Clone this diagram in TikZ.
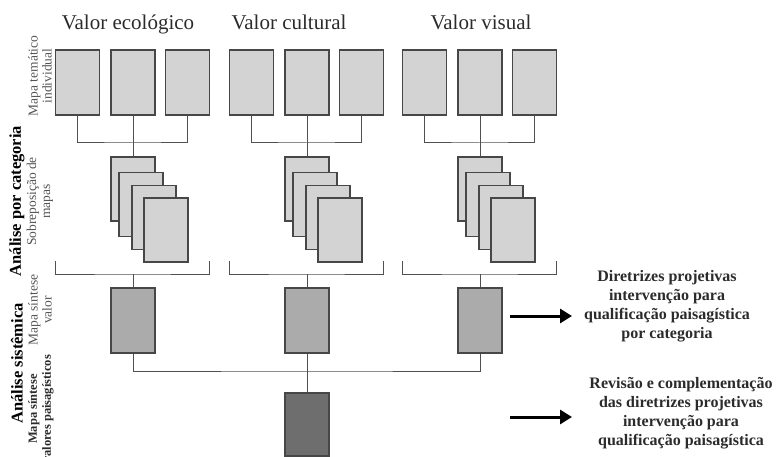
\documentclass[tikz,border=0pt]{standalone}
\usepackage{fontspec}
\setmainfont{Liberation Serif}
\usetikzlibrary{arrows.meta,calc}
\definecolor{mapfill}{HTML}{D3D3D3}
\definecolor{synfill}{HTML}{ABABAB}
\definecolor{totfill}{HTML}{6E6E6E}
\definecolor{edgegray}{HTML}{474747}
\definecolor{linkgray}{HTML}{505050}
\definecolor{inkgray}{HTML}{2B2B2B}
\definecolor{softink}{HTML}{555555}
\tikzset{
  mapa/.style={draw=edgegray, fill=mapfill, line width=1.2pt, minimum width=44pt, minimum height=65pt, inner sep=0pt},
  pilha/.style={mapa, minimum height=64pt},
  sint/.style={mapa, fill=synfill},
  tot/.style={mapa, fill=totfill, minimum height=63pt},
  lnk/.style={draw=linkgray, line width=1pt},
  seta/.style={-{Triangle[length=12pt,width=14pt]}, line width=3pt, draw=black},
  titulo/.style={font=\fontsize{21}{25}\selectfont, text=inkgray, anchor=base},
  rot/.style={rotate=90, align=center, inner sep=1pt, font=\fontsize{13.5}{14}\selectfont, text=softink},
  rotb/.style={rotate=90, align=center, font=\bfseries\fontsize{16.5}{20}\selectfont, text=black},
  saida/.style={align=center, font=\bfseries\fontsize{16}{19}\selectfont, text=inkgray},
}
\begin{document}
\begin{tikzpicture}[x=1pt, y=-1pt]
  \useasboundingbox (0,0) rectangle (776,457);
  \node[titulo] (t1) at (128,30) {Valor ecológico};
  \node[titulo] (t2) at (289,30) {Valor cultural};
  \node[titulo] (t3) at (481,30) {Valor visual};
  \node[rot] (lm) at (40,76) {Mapa temático\\individual};
  \node[rot] (ls) at (40,201.5) {Sobreposição de\\mapas};
  \node[rotb] (lc) at (17,201) {Análise por categoria};
  \node[rot] (lv) at (40,310) {Mapa síntese\\valor};
  \node[rotb] (la) at (17,363.5) {Análise sistêmica};
  \node[rot, text=inkgray, font=\bfseries\fontsize{12.5}{14}\selectfont] (lp) at (41,409) {Mapa síntese\\valores paisagísticos};
  \foreach \g/\gx in {1/133,2/307,3/480} {
    \node[mapa] (m\g-1) at (\gx-55.5,82.5) {};
    \node[mapa] (m\g-2) at (\gx,82.5) {};
    \node[mapa] (m\g-3) at (\gx+54.5,82.5) {};
    \coordinate (b\g) at (\gx,143);
    \draw[lnk] (m\g-1.south) |- (b\g) -| (m\g-3.south);
    \node[pilha] (s\g-1) at (\gx,189) {};
    \node[pilha] (s\g-2) at (\gx+8,204.5) {};
    \node[pilha] (s\g-3) at (\gx+21,217.5) {};
    \node[pilha] (s\g-4) at (\gx+33,230) {};
    \draw[lnk] (m\g-2.south) -- (s\g-1.north);
    \coordinate (k\g) at (\gx,274);
    \draw[lnk] (\gx-77.5,261) |- (k\g) -| (\gx+76.5,261);
    \node[sint] (v\g) at (\gx,320.5) {};
    \draw[lnk] (k\g) -- (v\g.north);
  }
  \node[tot] (tot) at (307,424.5) {};
  \coordinate (j) at (307,371);
  \draw[lnk] (v1.south) |- (j) -| (v3.south);
  \draw[lnk] (v2.south) -- (tot.north);
  \node[saida] (out1) at (667,306.5) {Diretrizes projetivas\\intervenção para\\qualificação paisagística\\por categoria};
  \node[saida] (out2) at (681,413) {Revisão e complementação\\das diretrizes projetivas\\intervenção para\\qualificação paisagística};
  \coordinate (a1) at (510,316);
  \coordinate (a2) at (510,417);
  \draw[seta] (a1) -- (572,316);
  \draw[seta] (a2) -- (572,417);
\end{tikzpicture}
\end{document}
